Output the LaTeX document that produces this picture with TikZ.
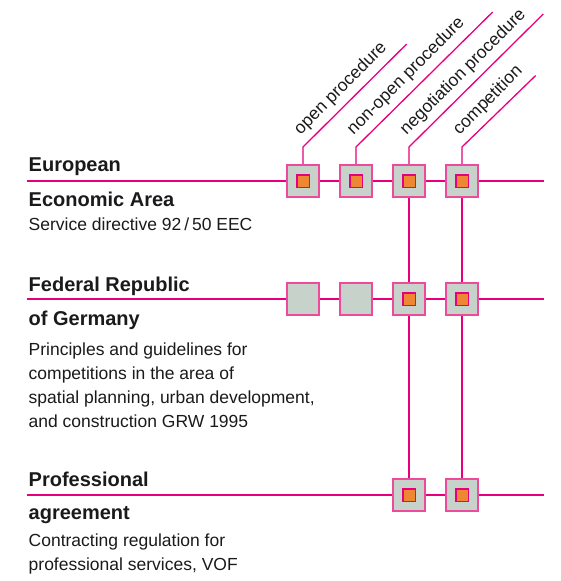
\documentclass[tikz,border=0pt]{standalone}
\usepackage{fontspec}
\setmainfont{Liberation Sans}
\definecolor{mag}{HTML}{E6007E}
\definecolor{boxpink}{HTML}{EE4A9C}
\definecolor{cellgray}{HTML}{C7D2CA}
\definecolor{dotorange}{HTML}{EF8634}
\definecolor{ink}{HTML}{1A1A1A}
\begin{document}
\begin{tikzpicture}[x=1pt,y=-1pt,
  conn/.style={draw=mag, line width=1.3pt},
  cell/.style={fill=boxpink, minimum size=34pt, inner sep=0pt,
    path picture={\fill[cellgray] ([shift={(2pt,-2pt)}]path picture bounding box.north west)
       rectangle ([shift={(-2pt,2pt)}]path picture bounding box.south east);}},
  dot/.style={fill=mag, minimum size=14pt, inner sep=0pt,
    path picture={\fill[dotorange] ([shift={(1.5pt,-1.5pt)}]path picture bounding box.north west)
       rectangle ([shift={(-1.5pt,1.5pt)}]path picture bounding box.south east);}},
  head/.style={font=\fontsize{20}{24}\selectfont\bfseries, anchor=base west, inner sep=0pt, text=ink},
  body/.style={font=\fontsize{17.5}{24}\selectfont, anchor=base west, inner sep=0pt, text=ink},
  proc/.style={font=\fontsize{17.5}{24}\selectfont, anchor=base west, inner sep=0pt, rotate=45, text=ink}]
\useasboundingbox (0,0) rectangle (560,581);

% boxes
\foreach \c/\x in {1/303,2/356,3/409,4/462}{
  \node[cell] (a\c) at (\x,181) {};
}
\node[cell] (b1) at (303,299) {};
\node[cell] (b2) at (356,299) {};
\node[cell] (b3) at (409,299) {};
\node[cell] (b4) at (462,299) {};
\node[cell] (c3) at (409,495) {};
\node[cell] (c4) at (462,495) {};

% inner squares
\foreach \c in {1,2,3,4}{ \node[dot] (da\c) at (a\c) {}; }
\node[dot] (db3) at (b3) {};
\node[dot] (db4) at (b4) {};
\node[dot] (dc3) at (c3) {};
\node[dot] (dc4) at (c4) {};

% row line ends
\coordinate (L1) at (27,181); \coordinate (R1) at (544,181);
\coordinate (L2) at (27,299); \coordinate (R2) at (544,299);
\coordinate (L3) at (27,495); \coordinate (R3) at (544,495);

\draw[conn] (L1) -- (a1) -- (a2) -- (a3) -- (a4) -- (R1);
\draw[conn] (L2) -- (b1) -- (b2) -- (b3) -- (b4) -- (R2);
\draw[conn] (L3) -- (c3) -- (c4) -- (R3);
\draw[conn] (a3) -- (b3) -- (c3);
\draw[conn] (a4) -- (b4) -- (c4);

% branches to the procedure labels
\coordinate (k1) at (303,147); \coordinate (e1) at (406.7,44);
\coordinate (k2) at (356,147); \coordinate (e2) at (492.7,12);
\coordinate (k3) at (409,147); \coordinate (e3) at (543.3,14);
\coordinate (k4) at (462,147); \coordinate (e4) at (535.7,75.5);
\draw[conn] (a1) -- (k1) -- (e1);
\draw[conn] (a2) -- (k2) -- (e2);
\draw[conn] (a3) -- (k3) -- (e3);
\draw[conn] (a4) -- (k4) -- (e4);

\node[proc] (t1) at (300.5,135.5) {open procedure};
\node[proc] (t2) at (353.5,135.5) {non-open procedure};
\node[proc] (t3) at (406.5,135.5) {negotiation procedure};
\node[proc] (t4) at (459.5,135.5) {competition};

% left texts
\node[head] (h1a) at (28.5,171) {European};
\node[head] (h1b) at (28.5,206) {Economic Area};
\node[body] (s1) at (28.5,230.5) {Service directive 92\,/\,50 EEC};

\node[head] (h2a) at (28.5,291) {Federal Republic};
\node[head] (h2b) at (28.5,325) {of Germany};
\node[body] (s2a) at (28.5,355) {Principles and guidelines for};
\node[body] (s2b) at (28.5,379) {competitions in the area of};
\node[body] (s2c) at (28.5,403) {spatial planning, urban development,};
\node[body] (s2d) at (28.5,427) {and construction GRW 1995};

\node[head] (h3a) at (28.5,486) {Professional};
\node[head] (h3b) at (28.5,519.5) {agreement};
\node[body] (s3a) at (28.5,546) {Contracting regulation for};
\node[body] (s3b) at (28.5,570) {professional services, VOF};
\end{tikzpicture}
\end{document}
